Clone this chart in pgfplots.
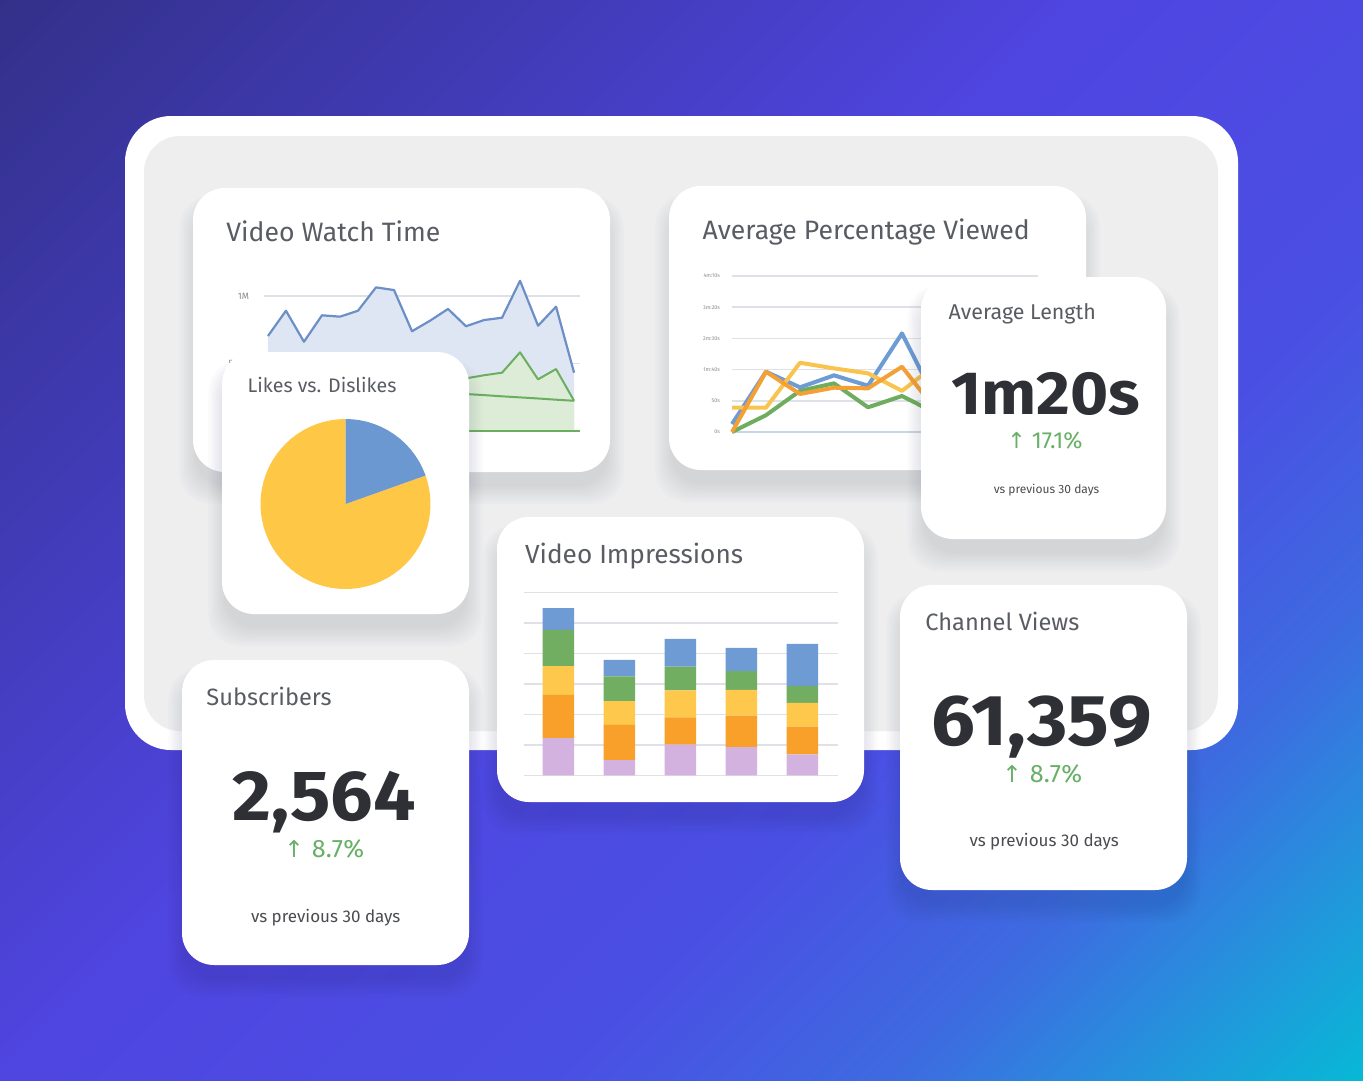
\documentclass[border=0pt]{standalone}
\usepackage{pgfplots}
\pgfplotsset{compat=1.18}
\usepgfplotslibrary{polar}
\usepackage{fontspec}
\setmainfont{Fira Sans}
\newfontfamily\arrowfont{DejaVu Sans}

\definecolor{panelgray}{HTML}{EEEEEF}
\definecolor{titlegray}{HTML}{595C62}
\definecolor{bignum}{HTML}{2F3035}
\definecolor{upgreen}{HTML}{68B068}
\definecolor{subtext}{HTML}{4A4C50}
\definecolor{gridgray}{HTML}{E0E1E6}
\definecolor{ticklab}{HTML}{8A8A8A}
\definecolor{wtblue}{HTML}{6B8FC6}
\definecolor{wtbluefill}{HTML}{DFE6F3}
\definecolor{wtgreen}{HTML}{6CAE60}
\definecolor{wtgreenfill}{HTML}{DCECD6}
\definecolor{apvblue}{HTML}{6D9BD3}
\definecolor{apvyellow}{HTML}{F8C44D}
\definecolor{apvorange}{HTML}{F5A034}
\definecolor{apvgreen}{HTML}{6FAD5E}
\definecolor{apvaxis}{HTML}{C8D4EA}
\definecolor{pieyellow}{HTML}{FEC846}
\definecolor{pieblue}{HTML}{6B98D0}
\definecolor{imppurple}{HTML}{D4B2E0}
\definecolor{imporange}{HTML}{F9A02A}
\definecolor{impyellow}{HTML}{FDC84C}
\definecolor{impgreen}{HTML}{71AE62}
\definecolor{impblue}{HTML}{6F9BD4}
\definecolor{shadowc}{HTML}{2A2E55}

\pgfdeclarehorizontalshading{bgshade}{100bp}{%
rgb(0bp)=(0.20,0.19,0.54);
rgb(14.6bp)=(0.20,0.19,0.54);
rgb(46bp)=(0.31,0.27,0.88);
rgb(62bp)=(0.29,0.31,0.89);
rgb(72bp)=(0.24,0.42,0.88);
rgb(79bp)=(0.14,0.58,0.86);
rgb(85.4bp)=(0.03,0.72,0.84);
rgb(100bp)=(0.03,0.72,0.84)}

\newcommand{\card}[4]{%
  \foreach \i in {1,...,8} {%
    \fill[shadowc, opacity=0.016, rounded corners=16bp]
      ({#1-\i*2.2+4},{#2-\i*1.5+20}) rectangle ({#3+\i*2.2-4},{#4+\i*2.5+12});
  }%
  \fill[white, rounded corners=16bp] (#1,#2) rectangle (#3,#4);%
}

\begin{document}
\begin{tikzpicture}[x=0.5bp,y=-0.5bp]
\useasboundingbox (0,0) rectangle (1363,1080);
\shade[shading=bgshade, shading angle=-45] (0,0) rectangle (1363,1080);

% panels
\fill[white, rounded corners=23bp] (125,116) rectangle (1238,750);
\fill[panelgray, rounded corners=18bp] (144,136) rectangle (1218,731);

% ---------- Video Watch Time ----------
\card{193}{188}{610}{472}
\coordinate (wt) at (264,431);
\begin{axis}[at={(wt)}, anchor=south west, scale only axis,
  width=158bp, height=81bp,
  xmin=-0.22, xmax=17.33, ymin=0, ymax=1.2,
  axis line style={draw=none}, xtick=\empty,
  ytick={0,0.5,1}, yticklabels={0,500K,1M},
  ymajorgrids, major grid style={draw=gridgray, line width=0.7bp},
  tick style={draw=none},
  yticklabel style={font=\fontsize{4.6bp}{5bp}\selectfont, text=ticklab, xshift=-4bp},
  clip=false]
\addplot[draw=none, fill=wtbluefill] coordinates {
(0,0.704) (1,0.891) (2,0.661) (3,0.857) (4,0.847) (5,0.891) (6,1.064) (7,1.044) (8,0.739)
(9,0.817) (10,0.904) (11,0.776) (12,0.822) (13,0.839) (14,1.113) (15,0.780) (16,0.921) (17,0.432)} \closedcycle;
\addplot[draw=none, fill=wtgreenfill] coordinates {
(0,0.30) (1,0.35) (2,0.28) (3,0.33) (4,0.34) (5,0.36) (6,0.42) (7,0.40) (8,0.31)
(9,0.35) (10,0.37) (11,0.39) (12,0.413) (13,0.432) (14,0.583) (15,0.383) (16,0.459) (17,0.224)} \closedcycle;
\addplot[wtblue, line width=1.1bp, line join=round] coordinates {
(0,0.704) (1,0.891) (2,0.661) (3,0.857) (4,0.847) (5,0.891) (6,1.064) (7,1.044) (8,0.739)
(9,0.817) (10,0.904) (11,0.776) (12,0.822) (13,0.839) (14,1.113) (15,0.780) (16,0.921) (17,0.432)};
\addplot[wtgreen, line width=1bp, line join=round] coordinates {
(0,0.30) (1,0.35) (2,0.28) (3,0.33) (4,0.34) (5,0.36) (6,0.42) (7,0.40) (8,0.31)
(9,0.35) (10,0.37) (11,0.39) (12,0.413) (13,0.432) (14,0.583) (15,0.383) (16,0.459) (17,0.224)};
\addplot[wtgreen, line width=1bp] coordinates {
(0,0.33) (1,0.32) (2,0.32) (3,0.31) (4,0.31) (5,0.30) (6,0.30) (7,0.29) (8,0.29)
(9,0.28) (10,0.28) (11,0.274) (12,0.266) (13,0.257) (14,0.249) (15,0.241) (16,0.232) (17,0.224)};
\addplot[wtgreen, line width=1bp] coordinates {(-0.22,0) (17.33,0)};
\end{axis}
\node[anchor=base west, inner sep=0, text=titlegray, font=\fontsize{13.3bp}{16bp}\selectfont] at (226,241.7) {Video Watch Time};

% ---------- Average Percentage Viewed ----------
\card{669}{186}{1086}{470}
\coordinate (apv) at (732,432);
\begin{axis}[at={(apv)}, anchor=south west, scale only axis,
  width=153bp, height=78bp,
  xmin=0, xmax=9, ymin=0, ymax=250,
  axis line style={draw=none}, xtick=\empty,
  ytick={0,50,100,150,200,250}, yticklabels={0s,50s,1m:40s,2m:30s,3m:20s,4m:10s},
  ymajorgrids, major grid style={draw=gridgray, line width=0.75bp},
  tick style={draw=none},
  yticklabel style={font=\fontsize{2.7bp}{3bp}\selectfont, text=ticklab, xshift=-2.5bp},
  clip=false]
\addplot[apvaxis, line width=0.8bp] coordinates {(0,0) (9,0)};
\addplot[apvgreen, line width=2bp, line join=round] coordinates {
(0,0) (1,27) (2,66) (3,78) (4,39.6) (5,57.7) (6,30) (7,45) (8,55) (9,50)};
\addplot[apvblue, line width=2bp, line join=round] coordinates {
(0,12.8) (1,96.6) (2,71.6) (3,90.8) (4,74.2) (5,158) (6,50) (7,70) (8,85) (9,90)};
\addplot[apvyellow, line width=2bp, line join=round] coordinates {
(0,39) (1,39) (2,111) (3,102) (4,94) (5,66) (6,108) (7,95) (8,80) (9,100)};
\addplot[apvorange, line width=2bp, line join=round] coordinates {
(0,0) (1,96.6) (2,61) (3,71) (4,70) (5,104.6) (6,35) (7,60) (8,75) (9,70)};
\end{axis}
\node[anchor=base west, inner sep=0, text=titlegray, font=\fontsize{13.3bp}{16bp}\selectfont] at (702.3,239.3) {Average Percentage Viewed};

% ---------- Likes vs. Dislikes ----------
\card{222}{352}{469}{614}
\coordinate (pie) at (345.5,504);
\begin{axis}[at={(pie)}, anchor=center, scale only axis,
  width=85bp, height=85bp, xmin=-1, xmax=1, ymin=-1, ymax=1,
  hide axis, clip=false]
\addplot[fill=pieyellow, draw=none, data cs=polar] coordinates {
(90,0) (90,1) (95,1) (100,1) (105,1) (110,1) (115,1) (120,1) (125,1) (130,1) (135,1)
(140,1) (145,1) (150,1) (155,1) (160,1) (165,1) (170,1) (175,1) (180,1) (185,1) (190,1)
(195,1) (200,1) (205,1) (210,1) (215,1) (220,1) (225,1) (230,1) (235,1) (240,1) (245,1)
(250,1) (255,1) (260,1) (265,1) (270,1) (275,1) (280,1) (285,1) (290,1) (295,1) (300,1)
(305,1) (310,1) (315,1) (320,1) (325,1) (330,1) (335,1) (340,1) (345,1) (350,1) (355,1)
(360,1) (365,1) (370,1) (375,1) (379.6,1) (379.6,0)} -- cycle;
\addplot[fill=pieblue, draw=none, data cs=polar] coordinates {
(19.6,0) (19.6,1) (25,1) (30,1) (35,1) (40,1) (45,1) (50,1) (55,1) (60,1) (65,1)
(70,1) (75,1) (80,1) (85,1) (90,1) (90,0)} -- cycle;
\end{axis}
\node[anchor=base west, inner sep=0, text=titlegray, font=\fontsize{9.8bp}{12bp}\selectfont] at (247.3,392.3) {Likes vs. Dislikes};

% ---------- Average Length ----------
\card{921}{277}{1166}{539}
\node[anchor=base west, inner sep=0, text=titlegray, font=\fontsize{10.7bp}{13bp}\selectfont] at (948.3,319.3) {Average Length};
\node[anchor=base, inner sep=0, text=bignum, font=\fontsize{30.5bp}{34bp}\selectfont\bfseries] at (1045.5,414.7) {\scalebox{1.07}[1]{1m20s}};
\node[anchor=base, inner sep=0, text=upgreen, font=\fontsize{11.6bp}{13bp}\selectfont] at (1045,448) {{\arrowfont\fontsize{11bp}{13bp}\selectfont ↑}\hspace{3bp}17.1\%};
\node[anchor=base, inner sep=0, text=subtext, font=\fontsize{6bp}{7bp}\selectfont] at (1046.5,493) {vs previous 30 days};

% ---------- Video Impressions ----------
\card{497}{517}{864}{802}
\coordinate (imp) at (523.7,775.3);
\begin{axis}[at={(imp)}, anchor=south west, scale only axis,
  width=157bp, height=91.3bp,
  xmin=-0.567, xmax=4.58, ymin=0, ymax=6,
  ybar stacked, bar width=15.75bp,
  axis line style={draw=none}, xtick=\empty,
  ytick={0,1,2,3,4,5,6}, yticklabel style={opacity=0, text opacity=0},
  ymajorgrids, major grid style={draw=gridgray, line width=0.75bp},
  tick style={draw=none}, clip=false]
\addplot[fill=imppurple, draw=none] coordinates {(0,1.22) (1,0.50) (2,1.01) (3,0.93) (4,0.69)};
\addplot[fill=imporange, draw=none] coordinates {(0,1.42) (1,1.16) (2,0.89) (3,1.03) (4,0.91)};
\addplot[fill=impyellow, draw=none] coordinates {(0,0.95) (1,0.78) (2,0.89) (3,0.85) (4,0.78)};
\addplot[fill=impgreen, draw=none] coordinates {(0,1.19) (1,0.81) (2,0.78) (3,0.61) (4,0.55)};
\addplot[fill=impblue, draw=none] coordinates {(0,0.71) (1,0.54) (2,0.91) (3,0.77) (4,1.39)};
\end{axis}
\node[anchor=base west, inner sep=0, text=titlegray, font=\fontsize{13.1bp}{16bp}\selectfont] at (524.7,563) {Video Impressions};

% ---------- Channel Views ----------
\card{900}{585}{1187}{890}
\node[anchor=base west, inner sep=0, text=titlegray, font=\fontsize{11.8bp}{14bp}\selectfont] at (925,630.7) {Channel Views};
\node[anchor=base, inner sep=0, text=bignum, font=\fontsize{36bp}{40bp}\selectfont\bfseries] at (1041.7,745.5) {\scalebox{1.08}[1]{61,359}};
\node[anchor=base, inner sep=0, text=upgreen, font=\fontsize{12.6bp}{15bp}\selectfont] at (1042.3,782) {{\arrowfont\fontsize{11.6bp}{14bp}\selectfont ↑}\hspace{4bp}8.7\%};
\node[anchor=base, inner sep=0, text=subtext, font=\fontsize{8.5bp}{10bp}\selectfont] at (1044.2,846.7) {vs previous 30 days};

% ---------- Subscribers ----------
\card{182}{660}{469}{965}
\node[anchor=base west, inner sep=0, text=titlegray, font=\fontsize{11.8bp}{14bp}\selectfont] at (206,705.7) {Subscribers};
\node[anchor=base, inner sep=0, text=bignum, font=\fontsize{35.5bp}{40bp}\selectfont\bfseries] at (324.3,820.5) {\scalebox{1.06}[1]{2,564}};
\node[anchor=base, inner sep=0, text=upgreen, font=\fontsize{12.6bp}{15bp}\selectfont] at (324.3,857) {{\arrowfont\fontsize{11.6bp}{14bp}\selectfont ↑}\hspace{4bp}8.7\%};
\node[anchor=base, inner sep=0, text=subtext, font=\fontsize{8.5bp}{10bp}\selectfont] at (325.7,922.7) {vs previous 30 days};
\end{tikzpicture}
\end{document}
